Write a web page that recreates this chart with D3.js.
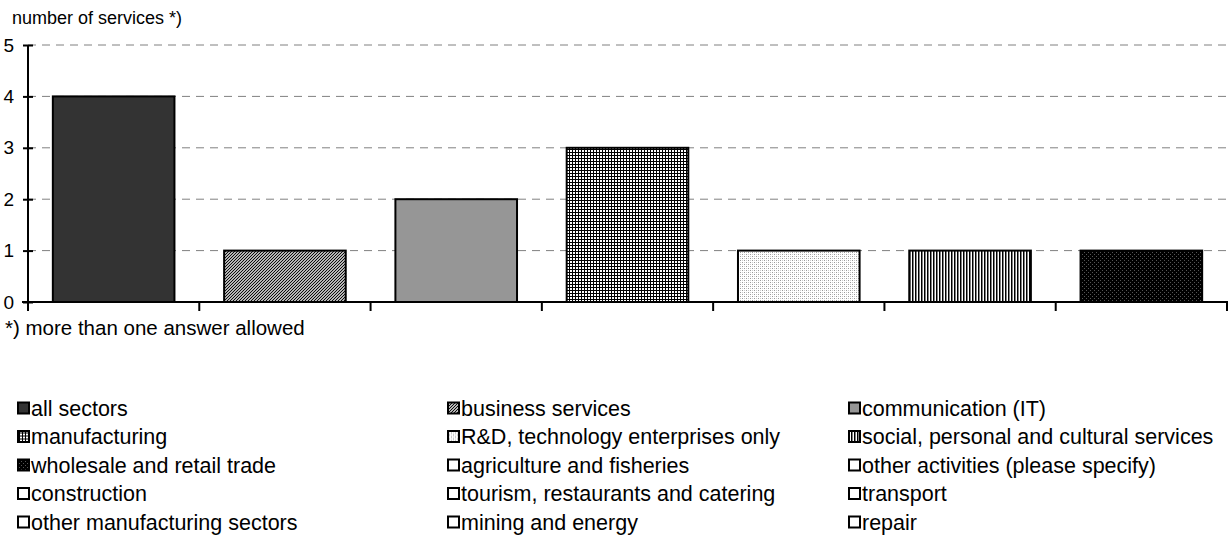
<!DOCTYPE html>
<html>
<head>
<meta charset="utf-8">
<script src="https://cdn.jsdelivr.net/npm/d3@7"></script>
<style>
  html, body { margin: 0; padding: 0; background: #fff; }
  svg { display: block; font-family: Arial, "Liberation Sans", sans-serif; }
</style>
</head>
<body>
<svg id="chart" width="1229" height="554"></svg>
<script>
// Sectors in the order the legend lists them (row by row, three per row)
const sectors = [
  "all sectors", "business services", "communication (IT)",
  "manufacturing", "R&D, technology enterprises only", "social, personal and cultural services",
  "wholesale and retail trade", "agriculture and fisheries", "other activities (please specify)",
  "construction", "tourism, restaurants and catering", "transport",
  "other manufacturing sectors", "mining and energy", "repair"
];
// Number of services per sector
const counts = [4, 1, 2, 3, 1, 1, 1, 0, 0, 0, 0, 0, 0, 0, 0];
const yTicks = [0, 1, 2, 3, 4, 5];
const yTitle = "number of services *)";
const footnote = "*) more than one answer allowed";

// Fill of each sector: solid colour or a pattern id
const fills = [
  "#333333", "url(#p-diag)", "#969696",
  "url(#p-grid)", "url(#p-dots)", "url(#p-vert)",
  "url(#p-dark)", "#ffffff", "#ffffff",
  "#ffffff", "#ffffff", "#ffffff",
  "#ffffff", "#ffffff", "#ffffff"
];

const svg = d3.select("#chart");
const defs = svg.append("defs");

// diagonal hatch
const pDiag = defs.append("pattern").attr("id", "p-diag")
  .attr("patternUnits", "userSpaceOnUse").attr("width", 3).attr("height", 3);
pDiag.append("rect").attr("width", 3).attr("height", 3).attr("fill", "#fff");
pDiag.append("path").attr("d", "M-1,1 L1,-1 M0,3 L3,0 M2,4 L4,2")
  .attr("stroke", "#000").attr("stroke-width", 1.1);

// fine grid
const pGrid = defs.append("pattern").attr("id", "p-grid")
  .attr("patternUnits", "userSpaceOnUse").attr("width", 3).attr("height", 3);
pGrid.append("rect").attr("width", 3).attr("height", 3).attr("fill", "#000");
pGrid.append("rect").attr("width", 2).attr("height", 2).attr("fill", "#fff");

// light dots
const pDots = defs.append("pattern").attr("id", "p-dots")
  .attr("patternUnits", "userSpaceOnUse").attr("width", 4).attr("height", 4);
pDots.append("rect").attr("width", 4).attr("height", 4).attr("fill", "#fff");
pDots.append("rect").attr("x", 0).attr("y", 0).attr("width", 1).attr("height", 1).attr("fill", "#999");
pDots.append("rect").attr("x", 2).attr("y", 2).attr("width", 1).attr("height", 1).attr("fill", "#999");
pDots.append("rect").attr("x", 0).attr("y", 2).attr("width", 1).attr("height", 1).attr("fill", "#ccc");
pDots.append("rect").attr("x", 2).attr("y", 0).attr("width", 1).attr("height", 1).attr("fill", "#ccc");

// vertical stripes
const pVert = defs.append("pattern").attr("id", "p-vert")
  .attr("patternUnits", "userSpaceOnUse").attr("width", 3).attr("height", 3);
pVert.append("rect").attr("width", 3).attr("height", 3).attr("fill", "#fff");
pVert.append("rect").attr("x", 0).attr("width", 1).attr("height", 3).attr("fill", "#000");
pVert.append("rect").attr("x", 1).attr("width", 1).attr("height", 3).attr("fill", "#808080");

// dark dotted
const pDark = defs.append("pattern").attr("id", "p-dark")
  .attr("patternUnits", "userSpaceOnUse").attr("width", 4).attr("height", 4);
pDark.append("rect").attr("width", 4).attr("height", 4).attr("fill", "#000");
pDark.append("rect").attr("x", 0).attr("y", 0).attr("width", 1).attr("height", 1).attr("fill", "#555");
pDark.append("rect").attr("x", 2).attr("y", 2).attr("width", 1).attr("height", 1).attr("fill", "#555");

// plot frame
const plotLeft = 28, plotRight = 1227, plotTop = 45, plotBottom = 302;

const barData = sectors.map((s, i) => ({ s, v: counts[i], fill: fills[i] })).filter(d => d.v > 0);

const x = d3.scaleBand().domain(barData.map(d => d.s)).range([plotLeft, plotRight]).padding(0);
const y = d3.scaleLinear().domain([0, 5]).range([plotBottom, plotTop]);

// dashed gridlines
svg.append("g").selectAll("line").data(yTicks.filter(t => t > 0)).join("line")
  .attr("x1", plotLeft).attr("x2", plotRight + 1)
  .attr("y1", d => y(d)).attr("y2", d => y(d))
  .attr("stroke", "#808080").attr("stroke-width", 1)
  .attr("stroke-dasharray", "8,6");

// bars
const inset = 0.145;
svg.append("g").selectAll("rect").data(barData).join("rect")
  .attr("x", d => x(d.s) + x.bandwidth() * inset)
  .attr("width", x.bandwidth() * (1 - 2 * inset))
  .attr("y", d => y(d.v))
  .attr("height", d => y(0) - y(d.v))
  .attr("fill", d => d.fill)
  .attr("stroke", "#000").attr("stroke-width", 2);

// y axis
const yAxis = svg.append("g").attr("transform", `translate(${plotLeft},0)`)
  .call(d3.axisLeft(y).tickValues(yTicks).tickFormat(d3.format("d")).tickSize(5).tickPadding(9));
yAxis.select(".domain").attr("stroke", "#000").attr("stroke-width", 2).attr("d", `M0,${plotTop}V${plotBottom}`);
yAxis.selectAll(".tick line").attr("x1", -5).attr("x2", 5).attr("stroke", "#000").attr("stroke-width", 2);
yAxis.selectAll(".tick text").attr("font-size", 19).attr("fill", "#000")
  .attr("font-family", "Arial, 'Liberation Sans', sans-serif");

// x axis: category boundaries marked by ticks
svg.append("line").attr("x1", plotLeft - 6).attr("x2", plotRight + 1)
  .attr("y1", plotBottom).attr("y2", plotBottom)
  .attr("stroke", "#000").attr("stroke-width", 2);
const bounds = barData.map(d => x(d.s)).concat([x(barData[barData.length - 1].s) + x.bandwidth()]);
svg.append("g").selectAll("line").data(bounds).join("line")
  .attr("x1", d => d).attr("x2", d => d)
  .attr("y1", plotBottom).attr("y2", plotBottom + 9)
  .attr("stroke", "#000").attr("stroke-width", 2);

// titles
svg.append("text").attr("x", 12).attr("y", 24)
  .attr("font-size", 18).text(yTitle);
svg.append("text").attr("x", 5).attr("y", 335)
  .attr("font-size", 20.5).text(footnote);

// legend
const colX = [17, 447, 848];
const rowY0 = 408, rowH = 28.5;
const leg = svg.append("g").selectAll("g").data(sectors).join("g")
  .attr("transform", (d, i) => `translate(${colX[i % 3]},${rowY0 + Math.floor(i / 3) * rowH})`);
leg.append("rect").attr("x", 1).attr("y", -5.5).attr("width", 11).attr("height", 11)
  .attr("fill", (d, i) => fills[i]).attr("stroke", "#000").attr("stroke-width", 2);
leg.append("text").attr("x", 14).attr("y", 7.5).attr("font-size", 21.5).text(d => d);
</script>
</body>
</html>
